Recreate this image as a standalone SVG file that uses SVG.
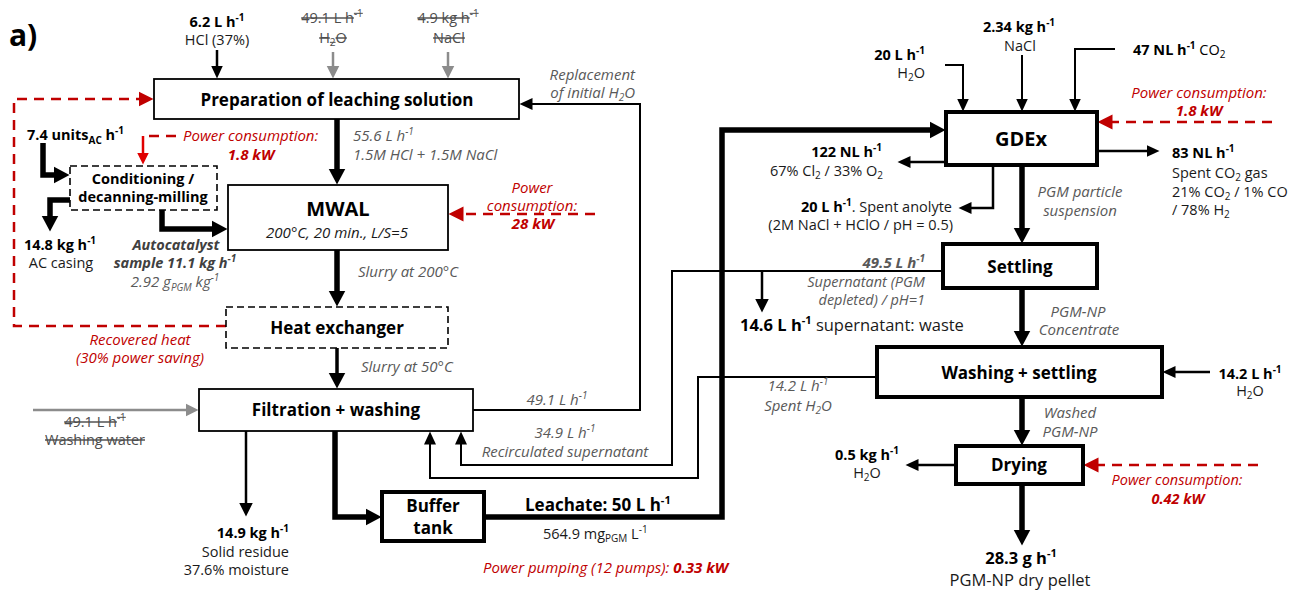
<svg xmlns="http://www.w3.org/2000/svg" width="1293" height="591" viewBox="0 0 1293 591">
<style>
text{font-family:"Open Sans","Noto Sans","Liberation Sans",sans-serif;font-size:14.5px;fill:#1a1a1a}
.b{font-weight:700;fill:#000}
.t{font-weight:700;font-size:17px;fill:#000}
.i{font-style:italic;fill:#595959;font-size:15px}
.r{font-style:italic;fill:#c00000;font-size:15px}
.rb{font-style:italic;font-weight:700;fill:#c00000;font-size:15px}
.s{fill:#4d4d4d;text-decoration:line-through}
.m{text-anchor:middle}
.e{text-anchor:end}
.box{fill:#fff;stroke:#000;stroke-width:1.8}
.boxT{fill:#fff;stroke:#000;stroke-width:4}
.boxD{fill:#fff;stroke:#000;stroke-width:1.6;stroke-dasharray:7 4}
.ln{fill:none;stroke:#000;stroke-width:2}
.ln2{fill:none;stroke:#000;stroke-width:2.5}
.thk{fill:none;stroke:#000;stroke-width:5.5}
.med{fill:none;stroke:#000;stroke-width:3.5}
.gr{fill:none;stroke:#8c8c8c;stroke-width:2.5}
.rd{fill:none;stroke:#c00000;stroke-width:2.5;stroke-dasharray:10 7}
</style>
<defs>
<marker id="a" viewBox="0 -7 14 14" markerWidth="14" markerHeight="14" refX="0.5" refY="0" orient="auto" markerUnits="userSpaceOnUse"><path d="M0,-6 L13,0 L0,6z" fill="#000"/></marker>
<marker id="aM" viewBox="0 -8 15 16" markerWidth="15" markerHeight="16" refX="0.5" refY="0" orient="auto" markerUnits="userSpaceOnUse"><path d="M0,-7 L14,0 L0,7z" fill="#000"/></marker>
<marker id="aT" viewBox="0 -9 17 18" markerWidth="17" markerHeight="18" refX="0.5" refY="0" orient="auto" markerUnits="userSpaceOnUse"><path d="M0,-8.5 L16,0 L0,8.5z" fill="#000"/></marker>
<marker id="aG" viewBox="0 -7 14 14" markerWidth="14" markerHeight="14" refX="0.5" refY="0" orient="auto" markerUnits="userSpaceOnUse"><path d="M0,-6.5 L13,0 L0,6.5z" fill="#8c8c8c"/></marker>
<marker id="aR" viewBox="0 -8 16 16" markerWidth="16" markerHeight="16" refX="0.5" refY="0" orient="auto" markerUnits="userSpaceOnUse"><path d="M0,-7.5 L15,0 L0,7.5z" fill="#c00000"/></marker>
<marker id="aR2" viewBox="0 -7 13 14" markerWidth="13" markerHeight="14" refX="0.5" refY="0" orient="auto" markerUnits="userSpaceOnUse"><path d="M0,-6 L12,0 L0,6z" fill="#e00000"/></marker>
</defs>
<rect width="1293" height="591" fill="#fff"/>

<g id="connectors">
<path class="ln2" d="M217,50 V66" marker-end="url(#a)"/>
<path class="gr" d="M333,52 V66" marker-end="url(#aG)"/>
<path class="gr" d="M448,52 V66" marker-end="url(#aG)"/>
<path class="gr" d="M33,410 H186" marker-end="url(#aG)"/>
<path class="ln" d="M473,410 H640 V104 H532" marker-end="url(#a)"/>
<path class="ln" d="M943,271 H672 V465 H461 V444" marker-end="url(#a)"/>
<path class="ln" d="M877,377 H698 V478 H430 V444" marker-end="url(#a)"/>
<path class="ln" d="M945,65 H963 V99" marker-end="url(#a)"/>
<path class="ln" d="M1022,55 V99" marker-end="url(#a)"/>
<path class="ln" d="M1115,49 H1075 V99" marker-end="url(#a)"/>
<path class="ln2" d="M1097,151 H1147" marker-end="url(#a)"/>
<path class="ln2" d="M946,162 H910" marker-end="url(#a)"/>
<path class="ln2" d="M993,165 V208 H971" marker-end="url(#a)"/>
<path class="ln2" d="M762,271 V299" marker-end="url(#aM)"/>
<path class="ln2" d="M1210,372 H1175" marker-end="url(#a)"/>
<path class="ln2" d="M956,465 H918" marker-end="url(#a)"/>
<path class="ln2" d="M246,431 V503" marker-end="url(#aM)"/>
<path class="thk" d="M337,119 V169" marker-end="url(#aT)"/>
<path class="thk" d="M337,250 V291" marker-end="url(#aT)"/>
<path class="med" d="M337,348 V373" marker-end="url(#aT)"/>
<path class="thk" d="M335,431 V517 H366" marker-end="url(#aT)"/>
<path class="thk" d="M484,517 H722 V130 H930" marker-end="url(#aT)"/>
<path class="thk" d="M1022,165 V228" marker-end="url(#aT)"/>
<path class="thk" d="M1022,288 V331" marker-end="url(#aT)"/>
<path class="thk" d="M1022,397 V430" marker-end="url(#aT)"/>
<path class="thk" d="M1022,484 V530" marker-end="url(#aT)"/>
<path class="thk" d="M43,143 V175 H54" marker-end="url(#aT)"/>
<path class="thk" d="M70,200 H50 V216" marker-end="url(#aT)"/>
<path class="thk" d="M162,210 V229 H212" marker-end="url(#aT)"/>
<path class="rd" d="M226,326 H14 V99 H139" marker-end="url(#aR)"/>
<path class="rd" d="M595,214 H463" marker-end="url(#aR)"/>
<path class="rd" d="M1272,122 H1112" marker-end="url(#aR)"/>
<path class="rd" d="M1258,465 H1098" marker-end="url(#aR)"/>
<path class="rd" d="M176,136 H143"/>
<path d="M143,136 V153" fill="none" stroke="#e00000" stroke-width="2.5" marker-end="url(#aR2)"/>
</g>

<g id="prep"><rect class="box" x="154" y="79" width="365" height="40"/><text class="t m" x="337" y="106">Preparation of leaching solution</text></g>
<g id="cond"><rect class="boxD" x="70" y="166" width="147" height="44"/><text class="b m" style="font-size:14.5px" x="143" y="184">Conditioning /</text><text class="b m" style="font-size:14.5px" x="143" y="202">decanning-milling</text></g>
<g id="mwal"><rect class="box" x="228" y="185" width="220" height="65"/><text class="b m" style="font-size:20px" x="338" y="216">MWAL</text><text class="m" style="font-size:15px;font-style:italic" x="337" y="238">200°C, 20 min., L/S=5</text></g>
<g id="hx"><rect class="boxD" x="226" y="307" width="222" height="41"/><text class="t m" x="337" y="334">Heat exchanger</text></g>
<g id="filt"><rect class="box" x="199" y="389" width="274" height="42"/><text class="t m" x="336" y="416">Filtration + washing</text></g>
<g id="buffer"><rect class="boxT" x="382" y="492" width="102" height="49"/><text class="t m" x="433" y="512">Buffer</text><text class="t m" x="433" y="534">tank</text></g>
<g id="gdex"><rect class="boxT" x="946" y="112" width="151" height="53"/><text class="b m" style="font-size:20px" x="1021" y="146">GDEx</text></g>
<g id="settling"><rect class="boxT" x="943" y="244" width="154" height="44"/><text class="t m" x="1020" y="273">Settling</text></g>
<g id="washing"><rect class="boxT" x="877" y="347" width="285" height="50"/><text class="t m" x="1019" y="379">Washing + settling</text></g>
<g id="drying"><rect class="boxT" x="956" y="446" width="127" height="38"/><text class="t m" x="1019" y="471">Drying</text></g>

<g id="labels">
<text class="b" style="font-size:30px" x="9" y="46">a)</text>
<text class="b m" x="217" y="27">6.2 L h<tspan dy="-6" font-size="10">-1</tspan></text>
<text class="m" x="217" y="45">HCl (37%)</text>
<text class="s m" x="332" y="23">49.1 L h<tspan dy="-6" font-size="10">-1</tspan></text>
<text class="s m" x="333" y="43">H<tspan dy="3" font-size="10">2</tspan><tspan dy="-3">O</tspan></text>
<text class="s m" x="448" y="23">4.9 kg h<tspan dy="-6" font-size="10">-1</tspan></text>
<text class="s m" x="449" y="43">NaCl</text>
<text class="i e" x="635" y="80">Replacement</text>
<text class="i e" x="635" y="98">of initial H<tspan dy="3" font-size="10">2</tspan><tspan dy="-3">O</tspan></text>
<text class="i" x="353" y="141">55.6 L h<tspan dy="-6" font-size="10">-1</tspan></text>
<text class="i" x="353" y="160">1.5M HCl + 1.5M NaCl</text>
<text class="r m" x="532" y="193">Power</text>
<text class="r m" x="532" y="211">consumption:</text>
<text class="rb m" x="533" y="229">28 kW</text>
<text class="i" x="358" y="277">Slurry at 200°C</text>
<text class="i" x="361" y="372">Slurry at 50°C</text>
<text class="s m" x="95" y="427">49.1 L h<tspan dy="-6" font-size="10">-1</tspan></text>
<text class="s m" x="95" y="445">Washing water</text>
<text class="i m" x="557" y="405">49.1  L h<tspan dy="-6" font-size="10">-1</tspan></text>
<text class="i m" x="565" y="438">34.9  L h<tspan dy="-6" font-size="10">-1</tspan></text>
<text class="i m" x="565" y="457">Recirculated supernatant</text>
<text class="b e" x="289" y="538">14.9 kg h<tspan dy="-6" font-size="10">-1</tspan></text>
<text class="e" x="289" y="557">Solid residue</text>
<text class="e" x="289" y="575">37.6% moisture</text>
<text class="b" style="font-size:17px" x="525" y="511">Leachate: 50 L h<tspan dy="-7" font-size="11">-1</tspan></text>
<text x="543" y="539">564.9 mg<tspan dy="3" font-size="10">PGM</tspan><tspan dy="-3"> L</tspan><tspan dy="-6" font-size="10">-1</tspan></text>
<text class="r" x="483" y="573">Power pumping (12 pumps): <tspan font-weight="700">0.33 kW</tspan></text>
<text class="r m" x="140" y="345">Recovered heat</text>
<text class="r m" x="140" y="363">(30% power saving)</text>
<text class="b" x="27" y="140">7.4 units<tspan dy="4" font-size="10">AC</tspan><tspan dy="-4"> h</tspan><tspan dy="-6" font-size="10">-1</tspan></text>
<text class="r" x="183" y="141">Power consumption:</text>
<text class="rb m" x="251" y="160">1.8 kW</text>
<text class="b m" x="60" y="250">14.8 kg h<tspan dy="-6" font-size="10">-1</tspan></text>
<text class="m" x="61" y="268">AC casing</text>
<text class="m" style="font-weight:700;font-style:italic;fill:#404040" x="176" y="250">Autocatalyst</text>
<text class="m" style="font-weight:700;font-style:italic;fill:#404040" x="175" y="268">sample 11.1 kg h<tspan dy="-6" font-size="10">-1</tspan></text>
<text class="i m" x="175" y="287">2.92 g<tspan dy="4" font-size="10">PGM</tspan><tspan dy="-4"> kg</tspan><tspan dy="-6" font-size="10">-1</tspan></text>
<text class="b e" x="925" y="60">20 L h<tspan dy="-6" font-size="10">-1</tspan></text>
<text class="e" x="925" y="78">H<tspan dy="3" font-size="10">2</tspan><tspan dy="-3">O</tspan></text>
<text class="b m" x="1019" y="32">2.34 kg h<tspan dy="-6" font-size="10">-1</tspan></text>
<text class="m" x="1020" y="51">NaCl</text>
<text class="b" x="1133" y="55">47 NL h<tspan dy="-6" font-size="10">-1</tspan><tspan dy="6" font-weight="400"> CO</tspan><tspan dy="3" font-size="10" font-weight="400">2</tspan></text>
<text class="r m" x="1199" y="98">Power consumption:</text>
<text class="rb m" x="1199" y="116">1.8 kW</text>
<text class="b" x="1172" y="158">83 NL h<tspan dy="-6" font-size="10">-1</tspan></text>
<text x="1172" y="178">Spent CO<tspan dy="3" font-size="10">2</tspan><tspan dy="-3"> gas</tspan></text>
<text x="1172" y="197">21% CO<tspan dy="3" font-size="10">2</tspan><tspan dy="-3"> / 1% CO</tspan></text>
<text x="1172" y="215">/ 78% H<tspan dy="3" font-size="10">2</tspan></text>
<text class="b e" x="882" y="157">122 NL h<tspan dy="-6" font-size="10">-1</tspan></text>
<text class="e" x="883" y="176">67% Cl<tspan dy="3" font-size="10">2</tspan><tspan dy="-3"> / 33% O</tspan><tspan dy="3" font-size="10">2</tspan></text>
<text class="e" x="952" y="212"><tspan class="b">20 L h</tspan><tspan class="b" dy="-6" font-size="10">-1</tspan><tspan dy="6">. Spent anolyte</tspan></text>
<text class="e" x="953" y="230">(2M NaCl + HClO / pH = 0.5)</text>
<text class="i m" x="1080" y="197">PGM particle</text>
<text class="i m" x="1080" y="216">suspension</text>
<text class="i e" style="font-weight:700" x="925" y="268">49.5  L h<tspan dy="-6" font-size="10">-1</tspan></text>
<text class="i e" style="font-size:14.5px" x="925" y="287">Supernatant (PGM</text>
<text class="i e" style="font-size:14.5px" x="925" y="305">depleted) / pH=1</text>
<text style="font-size:16.5px" x="740" y="331"><tspan class="b">14.6 L h</tspan><tspan class="b" dy="-7" font-size="11">-1</tspan><tspan dy="7"> supernatant: waste</tspan></text>
<text class="i m" x="1078" y="317">PGM-NP</text>
<text class="i m" x="1079" y="335">Concentrate</text>
<text class="b m" x="1250" y="379">14.2 L h<tspan dy="-6" font-size="10">-1</tspan></text>
<text class="m" x="1250" y="396">H<tspan dy="3" font-size="10">2</tspan><tspan dy="-3">O</tspan></text>
<text class="i m" x="798" y="391">14.2 L h<tspan dy="-6" font-size="10">-1</tspan></text>
<text class="i m" x="798" y="411">Spent H<tspan dy="3" font-size="10">2</tspan><tspan dy="-3">O</tspan></text>
<text class="i m" x="1070" y="418">Washed</text>
<text class="i m" x="1070" y="437">PGM-NP</text>
<text class="b m" x="867" y="460">0.5 kg h<tspan dy="-6" font-size="10">-1</tspan></text>
<text class="m" x="867" y="478">H<tspan dy="3" font-size="10">2</tspan><tspan dy="-3">O</tspan></text>
<text class="r m" style="font-size:14.5px" x="1177" y="485">Power consumption:</text>
<text class="rb m" style="font-size:14.5px" x="1178" y="504">0.42 kW</text>
<text class="b m" style="font-size:16.5px" x="1021" y="564">28.3 g h<tspan dy="-7" font-size="11">-1</tspan></text>
<text class="m" style="font-size:16.5px" x="1020" y="586">PGM-NP dry pellet</text>
</g>
</svg>
